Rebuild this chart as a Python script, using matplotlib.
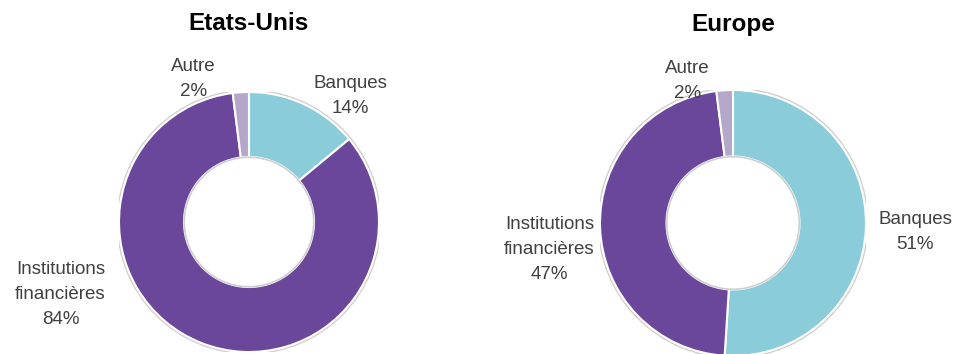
import matplotlib.pyplot as plt

plt.rcParams['font.family'] = ['Liberation Sans', 'DejaVu Sans']

categories = ['Banques', 'Institutions\nfinancières', 'Autre']
us_values = [14, 84, 2]
eu_values = [51, 47, 2]
colors = ['#8accd9', '#6a479b', '#b4a7c9']

fig = plt.figure(figsize=(9.66, 3.54), dpi=100)
W, H = 966, 354


def donut(cx, cy, r, values, title, label_pos):
    ax = fig.add_axes([(cx - r) / W, (H - cy - r) / H, 2 * r / W, 2 * r / H])
    ax.pie(values, colors=colors, startangle=90, counterclock=False, radius=1,
           wedgeprops=dict(width=0.5, edgecolor='white', linewidth=1.5))
    # faint shadow around the ring
    for rad in (1.012, 0.498):
        ax.add_patch(plt.Circle((0, 0), rad, fill=False, edgecolor='#cfcfcf',
                                linewidth=1.2, zorder=3 if rad < 1 else 0))
    ax.set_xlim(-1, 1)
    ax.set_ylim(-1, 1)
    ax.set_aspect('auto')
    ax.axis('off')
    for cat, v, (x, y) in zip(categories, values, label_pos):
        ax.text(x, y, f'{cat}\n{v}%', ha='center', va='center', fontsize=13.5,
                color='#404040', linespacing=1.6, clip_on=False)
    fig.text(cx / W, 1 - 24 / H, title, ha='center', va='center',
             fontsize=17.5, fontweight='bold', color='black')


donut(249, 222, 130, us_values, 'Etats-Unis',
      [(0.78, 0.97), (-1.45, -0.56), (-0.43, 1.10)])
donut(733, 223, 133, eu_values, 'Europe',
      [(1.37, -0.07), (-1.38, -0.20), (-0.34, 1.07)])

fig.savefig('out.png', dpi=100)
